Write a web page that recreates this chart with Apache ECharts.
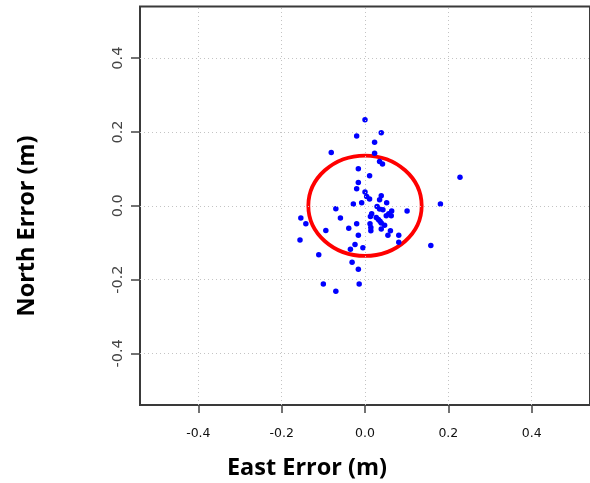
<!DOCTYPE html>
<html>
<head>
<meta charset="utf-8">
<script src="https://cdn.jsdelivr.net/npm/echarts@6/dist/echarts.min.js"></script>
<style>
html,body{margin:0;padding:0;background:#fff;}
#chart{width:590px;height:483px;}
</style>
</head>
<body>
<div id="chart"></div>
<script>
// ---- data ----
const eastErr = [0.000,0.039,-0.020,0.023,-0.081,0.023,0.035,0.042,-0.016,0.228,
  0.011,-0.016,-0.020,0.000,0.004,0.011,0.039,0.035,-0.028,-0.008,
  0.052,0.181,0.029,0.035,0.043,-0.070,0.101,0.064,0.016,0.051,
  0.063,0.013,0.027,0.032,-0.154,-0.059,0.036,-0.142,-0.020,0.012,
  0.047,-0.039,0.014,0.014,0.039,-0.094,0.061,0.055,-0.016,0.081,
  -0.156,0.081,-0.024,0.158,-0.005,-0.035,-0.111,-0.031,-0.016,-0.100,
  -0.014,-0.070,0.057,0.039];
const northErr = [0.233,0.198,0.189,0.172,0.144,0.142,0.120,0.113,0.100,0.077,
  0.081,0.063,0.046,0.037,0.025,0.018,0.027,0.016,0.005,0.008,
  0.008,0.005,-0.002,-0.009,-0.011,-0.008,-0.014,-0.014,-0.022,-0.027,
  -0.027,-0.029,-0.032,-0.037,-0.033,-0.033,-0.042,-0.049,-0.049,-0.049,
  -0.053,-0.061,-0.059,-0.068,-0.063,-0.067,-0.068,-0.080,-0.080,-0.080,
  -0.093,-0.099,-0.105,-0.108,-0.114,-0.118,-0.133,-0.153,-0.172,-0.212,
  -0.212,-0.232,-0.022,-0.047];
const circleCenter = [0.0, 0.0];
const circleRadius = 0.136;
const xTicks = [-0.4,-0.2,0.0,0.2,0.4];
const yTicks = [-0.4,-0.2,0.0,0.2,0.4];
const axisMin = -0.54, axisMax = 0.54;
const xTitle = 'East Error (m)';
const yTitle = 'North Error (m)';

// ---- chart ----
const points = eastErr.map((e,i)=>[e,northErr[i]]);
const chart = echarts.init(document.getElementById('chart'), null, {renderer:'canvas'});
const gridLineStyle = {color:'#c4c4c4', width:1, type:[1,3]};
const fmt = v => (Math.abs(v)<1e-9 ? 0 : v).toFixed(1);

chart.setOption({
  animation:false,
  backgroundColor:'#ffffff',
  grid:{left:140, right:-1.4, top:6.5, bottom:78, show:true, borderColor:'#3a3a3a', borderWidth:2, backgroundColor:'transparent'},
  xAxis:{
    type:'value', min:axisMin, max:axisMax, position:'bottom',
    axisLine:{show:false, onZero:false},
    axisTick:{show:true, customValues:xTicks, length:8, lineStyle:{color:'#444', width:1.5}},
    axisLabel:{show:true, customValues:xTicks, formatter:fmt, margin:22, color:'#111', fontSize:12.5, fontFamily:'DejaVu Sans'},
    splitLine:{show:false}
  },
  yAxis:{
    type:'value', min:axisMin, max:axisMax, position:'left',
    axisLine:{show:false, onZero:false},
    axisTick:{show:true, customValues:yTicks, length:9, lineStyle:{color:'#444', width:1.5}},
    axisLabel:{show:true, customValues:yTicks, formatter:fmt, rotate:90, margin:14, color:'#444', fontSize:14.5, fontFamily:'DejaVu Sans'},
    splitLine:{show:false}
  },
  graphic:[
    {type:'text', x:307, y:468, style:{text:xTitle, font:'bold 23.5px "Open Sans"', fill:'#000', textAlign:'center', textVerticalAlign:'middle'}},
    {type:'text', rotation:Math.PI/2, x:27, y:226, style:{text:yTitle, font:'bold 23.5px "Open Sans"', fill:'#000', textAlign:'center', textVerticalAlign:'middle'}}
  ],
  series:[
    {
      type:'scatter', data:[], silent:true,
      markLine:{
        silent:true, symbol:'none', label:{show:false},
        lineStyle:gridLineStyle, emphasis:{disabled:true},
        data: xTicks.map(v=>({xAxis:v})).concat(yTicks.map(v=>({yAxis:v})))
      }
    },
    {
      type:'custom', silent:true, z:3,
      data:[[circleCenter[0], circleCenter[1], circleRadius]],
      renderItem:function(params, api){
        const c = api.coord([api.value(0), api.value(1)]);
        const r = api.value(2);
        const rx = api.size([r,0])[0];
        const ry = api.size([0,r])[1];
        const d = 'M'+(c[0]-rx)+' '+c[1]+' A'+rx+' '+ry+' 0 1 0 '+(c[0]+rx)+' '+c[1]+' A'+rx+' '+ry+' 0 1 0 '+(c[0]-rx)+' '+c[1]+' Z';
        return {type:'path', shape:{pathData:d}, style:{fill:'none', stroke:'#ff0000', lineWidth:3.8}};
      }
    },
    {
      type:'scatter', data:points, symbol:'circle', symbolSize:5.5, z:4,
      itemStyle:{color:'#0000ff', opacity:1}, silent:true
    }
  ]
});
</script>
</body>
</html>
